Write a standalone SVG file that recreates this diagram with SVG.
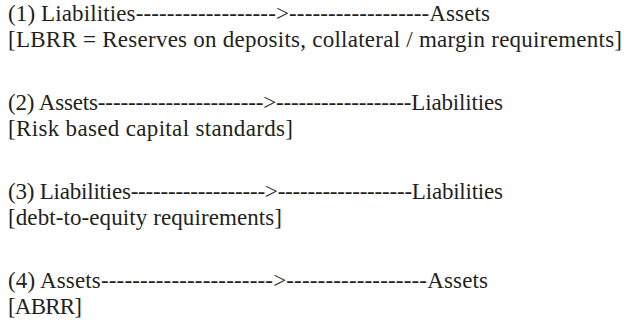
<svg xmlns="http://www.w3.org/2000/svg" width="625" height="333" viewBox="0 0 625 333">
<rect width="625" height="333" fill="#fff"/>
<g font-family="Liberation Serif, serif" font-size="23" fill="#231f20">
<g id="rule1">
<text x="8" y="21" textLength="482" lengthAdjust="spacing">(1) Liabilities------------------&gt;------------------Assets</text>
<text x="8" y="47" textLength="614" lengthAdjust="spacing">[LBRR = Reserves on deposits, collateral / margin requirements]</text>
</g>
<g id="rule2">
<text x="8" y="110" textLength="495" lengthAdjust="spacing">(2) Assets----------------------&gt;------------------Liabilities</text>
<text x="8" y="136" textLength="285" lengthAdjust="spacing">[Risk based capital standards]</text>
</g>
<g id="rule3">
<text x="8" y="199" textLength="495" lengthAdjust="spacing">(3) Liabilities------------------&gt;------------------Liabilities</text>
<text x="8" y="225" textLength="274" lengthAdjust="spacing">[debt-to-equity requirements]</text>
</g>
<g id="rule4">
<text x="8" y="288" textLength="480" lengthAdjust="spacing">(4) Assets----------------------&gt;------------------Assets</text>
<text x="8" y="314" textLength="74" lengthAdjust="spacing">[ABRR]</text>
</g>
</g>
</svg>
